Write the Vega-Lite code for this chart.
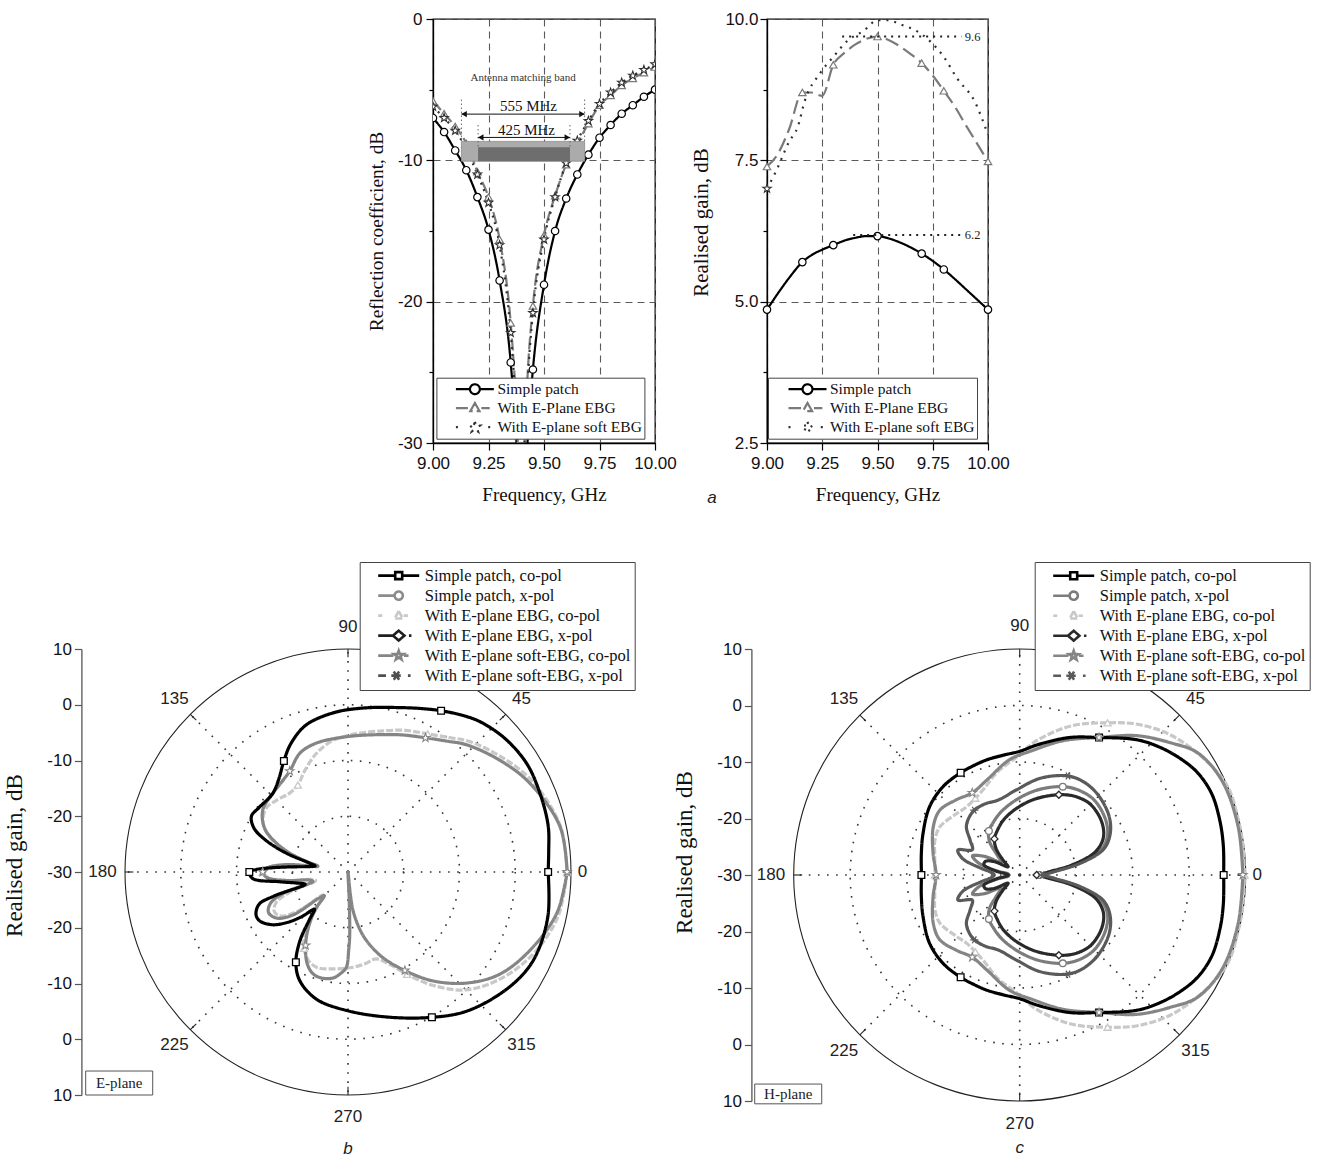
{
"$schema": "https://vega.github.io/schema/vega-lite/v6.json",
"background": "white",
"padding": {"left": 3, "top": 9, "right": 0, "bottom": 0},
"bounds": "flush",
"spacing": 630,
"config": {
 "view": {"stroke": null},
 "font": "Liberation Serif",
 "axis": {"labelFont": "Liberation Sans", "labelFontSize": 17, "labelColor": "#111", "titleFont": "Liberation Serif", "titleFontWeight": "normal", "titleColor": "#111", "domainColor": "#000", "domainWidth": 1.3, "tickColor": "#000", "tickWidth": 1.2, "labelFlush": false, "labelOverlap": false, "grid": false},
 "legend": {"labelFont": "Liberation Serif", "labelColor": "#111", "strokeColor": "#444", "fillColor": "#ffffff", "labelLimit": 300, "symbolOpacity": 1},
 "title": {"fontWeight": "normal"}
},
"datasets": {
 "refl": [
  {"s":"sp","f":9.00,"v":-7.0},{"s":"sp","f":9.05,"v":-8.0},{"s":"sp","f":9.10,"v":-9.3},{"s":"sp","f":9.15,"v":-10.7},{"s":"sp","f":9.20,"v":-12.6},{"s":"sp","f":9.25,"v":-14.9},{"s":"sp","f":9.30,"v":-18.5},{"s":"sp","f":9.35,"v":-24.3},{"s":"sp","f":9.37,"v":-28.5},{"s":"sp","f":9.39,"v":-34},{"s":"sp","f":9.40,"v":-38},{"s":"sp","f":9.41,"v":-35},{"s":"sp","f":9.43,"v":-28.8},{"s":"sp","f":9.45,"v":-24.8},{"s":"sp","f":9.50,"v":-18.8},{"s":"sp","f":9.55,"v":-15.0},{"s":"sp","f":9.60,"v":-12.7},{"s":"sp","f":9.65,"v":-11.0},{"s":"sp","f":9.70,"v":-9.6},{"s":"sp","f":9.75,"v":-8.4},{"s":"sp","f":9.80,"v":-7.5},{"s":"sp","f":9.85,"v":-6.7},{"s":"sp","f":9.90,"v":-6.1},{"s":"sp","f":9.95,"v":-5.5},{"s":"sp","f":10.00,"v":-5.0},
  {"s":"eb","f":9.00,"v":-5.8},{"s":"eb","f":9.05,"v":-6.7},{"s":"eb","f":9.10,"v":-7.6},{"s":"eb","f":9.15,"v":-8.8},{"s":"eb","f":9.20,"v":-10.8},{"s":"eb","f":9.25,"v":-12.6},{"s":"eb","f":9.30,"v":-15.6},{"s":"eb","f":9.35,"v":-21.5},{"s":"eb","f":9.37,"v":-26},{"s":"eb","f":9.385,"v":-31},{"s":"eb","f":9.40,"v":-36},{"s":"eb","f":9.41,"v":-31},{"s":"eb","f":9.425,"v":-25.5},{"s":"eb","f":9.45,"v":-20.3},{"s":"eb","f":9.50,"v":-15.3},{"s":"eb","f":9.55,"v":-12.5},{"s":"eb","f":9.60,"v":-10.3},{"s":"eb","f":9.65,"v":-8.8},{"s":"eb","f":9.70,"v":-7.4},{"s":"eb","f":9.75,"v":-6.1},{"s":"eb","f":9.80,"v":-5.4},{"s":"eb","f":9.85,"v":-4.7},{"s":"eb","f":9.90,"v":-4.2},{"s":"eb","f":9.95,"v":-3.8},{"s":"eb","f":10.00,"v":-3.4},
  {"s":"sf","f":9.00,"v":-6.2},{"s":"sf","f":9.05,"v":-7.0},{"s":"sf","f":9.10,"v":-7.9},{"s":"sf","f":9.15,"v":-9.2},{"s":"sf","f":9.20,"v":-11.0},{"s":"sf","f":9.25,"v":-13.0},{"s":"sf","f":9.30,"v":-16.0},{"s":"sf","f":9.35,"v":-22.2},{"s":"sf","f":9.37,"v":-26.5},{"s":"sf","f":9.385,"v":-31},{"s":"sf","f":9.40,"v":-36},{"s":"sf","f":9.41,"v":-31},{"s":"sf","f":9.425,"v":-26},{"s":"sf","f":9.45,"v":-20.8},{"s":"sf","f":9.50,"v":-15.6},{"s":"sf","f":9.55,"v":-12.6},{"s":"sf","f":9.60,"v":-10.2},{"s":"sf","f":9.65,"v":-8.6},{"s":"sf","f":9.70,"v":-7.2},{"s":"sf","f":9.75,"v":-6.0},{"s":"sf","f":9.80,"v":-5.2},{"s":"sf","f":9.85,"v":-4.5},{"s":"sf","f":9.90,"v":-4.0},{"s":"sf","f":9.95,"v":-3.6},{"s":"sf","f":10.00,"v":-3.2}
 ],
 "gain": [
  {"s":"sp","f":9.00,"v":4.86},{"s":"sp","f":9.05,"v":5.15},{"s":"sp","f":9.10,"v":5.42},{"s":"sp","f":9.16,"v":5.7},{"s":"sp","f":9.20,"v":5.82},{"s":"sp","f":9.25,"v":5.92},{"s":"sp","f":9.30,"v":6.0},{"s":"sp","f":9.35,"v":6.08},{"s":"sp","f":9.40,"v":6.13},{"s":"sp","f":9.45,"v":6.16},{"s":"sp","f":9.50,"v":6.16},{"s":"sp","f":9.55,"v":6.12},{"s":"sp","f":9.60,"v":6.05},{"s":"sp","f":9.65,"v":5.96},{"s":"sp","f":9.70,"v":5.85},{"s":"sp","f":9.75,"v":5.72},{"s":"sp","f":9.80,"v":5.57},{"s":"sp","f":9.85,"v":5.4},{"s":"sp","f":9.90,"v":5.22},{"s":"sp","f":9.95,"v":5.04},{"s":"sp","f":10.00,"v":4.86},
  {"s":"eb","f":9.00,"v":7.39},{"s":"eb","f":9.05,"v":7.62},{"s":"eb","f":9.10,"v":8.05},{"s":"eb","f":9.16,"v":8.7},{"s":"eb","f":9.20,"v":8.7},{"s":"eb","f":9.25,"v":8.64},{"s":"eb","f":9.30,"v":9.19},{"s":"eb","f":9.35,"v":9.4},{"s":"eb","f":9.40,"v":9.55},{"s":"eb","f":9.45,"v":9.65},{"s":"eb","f":9.50,"v":9.69},{"s":"eb","f":9.55,"v":9.63},{"s":"eb","f":9.60,"v":9.52},{"s":"eb","f":9.65,"v":9.38},{"s":"eb","f":9.70,"v":9.22},{"s":"eb","f":9.75,"v":9.0},{"s":"eb","f":9.80,"v":8.73},{"s":"eb","f":9.85,"v":8.45},{"s":"eb","f":9.90,"v":8.12},{"s":"eb","f":9.95,"v":7.8},{"s":"eb","f":10.00,"v":7.48},
  {"s":"sf","f":9.00,"v":7.0},{"s":"sf","f":9.04,"v":7.3},{"s":"sf","f":9.10,"v":7.83},{"s":"sf","f":9.14,"v":8.1},{"s":"sf","f":9.17,"v":8.54},{"s":"sf","f":9.24,"v":9.04},{"s":"sf","f":9.30,"v":9.33},{"s":"sf","f":9.36,"v":9.6},{"s":"sf","f":9.44,"v":9.8},{"s":"sf","f":9.50,"v":9.98},{"s":"sf","f":9.55,"v":9.98},{"s":"sf","f":9.60,"v":9.91},{"s":"sf","f":9.68,"v":9.78},{"s":"sf","f":9.74,"v":9.6},{"s":"sf","f":9.80,"v":9.33},{"s":"sf","f":9.86,"v":8.95},{"s":"sf","f":9.94,"v":8.54},{"s":"sf","f":10.00,"v":7.95}
 ],
 "angs": [{"ang":0},{"ang":45},{"ang":90},{"ang":135},{"ang":180},{"ang":225},{"ang":270},{"ang":315}],
 "pb": [
  {"s":"ebc","a":0,"g":9.3},{"s":"ebc","a":12,"g":9.0},{"s":"ebc","a":26,"g":6.9},{"s":"ebc","a":36,"g":4.6},{"s":"ebc","a":47,"g":2.0},{"s":"ebc","a":53,"g":0.2},{"s":"ebc","a":60,"g":-1.4},{"s":"ebc","a":68,"g":-2.6},{"s":"ebc","a":76,"g":-3.9},{"s":"ebc","a":84,"g":-4.9},{"s":"ebc","a":90,"g":-5.5},{"s":"ebc","a":97,"g":-6.3},{"s":"ebc","a":105,"g":-8.0},{"s":"ebc","a":113,"g":-10.2},{"s":"ebc","a":120,"g":-12.0},{"s":"ebc","a":127,"g":-12.4},{"s":"ebc","a":134,"g":-11.9},{"s":"ebc","a":142,"g":-11.4},{"s":"ebc","a":150,"g":-12.4},{"s":"ebc","a":156,"g":-14.6},{"s":"ebc","a":162,"g":-18.5},{"s":"ebc","a":167,"g":-23},{"s":"ebc","a":170,"g":-24.5},{"s":"ebc","a":174,"g":-18.5},{"s":"ebc","a":177,"g":-15.5},{"s":"ebc","a":180,"g":-14.7},{"s":"ebc","a":184,"g":-15.5},{"s":"ebc","a":188,"g":-19},{"s":"ebc","a":192,"g":-23.5},{"s":"ebc","a":195,"g":-24},{"s":"ebc","a":199,"g":-19},{"s":"ebc","a":203,"g":-16},{"s":"ebc","a":208,"g":-15},{"s":"ebc","a":213,"g":-15.5},{"s":"ebc","a":218,"g":-18.5},{"s":"ebc","a":223,"g":-24},{"s":"ebc","a":228,"g":-22},{"s":"ebc","a":234,"g":-17},{"s":"ebc","a":240,"g":-14.2},{"s":"ebc","a":246,"g":-12.6},{"s":"ebc","a":252,"g":-12.0},{"s":"ebc","a":261,"g":-12.4},{"s":"ebc","a":273,"g":-12.9},{"s":"ebc","a":281,"g":-13.3},{"s":"ebc","a":288,"g":-13.6},{"s":"ebc","a":294,"g":-11.9},{"s":"ebc","a":300,"g":-8.8},{"s":"ebc","a":307,"g":-4.5},{"s":"ebc","a":315,"g":-0.1},{"s":"ebc","a":325,"g":3.4},{"s":"ebc","a":336,"g":6.3},{"s":"ebc","a":348,"g":8.5},{"s":"ebc","a":360,"g":9.3},
  {"s":"sfc","a":0,"g":9.3},{"s":"sfc","a":12,"g":8.9},{"s":"sfc","a":26,"g":6.3},{"s":"sfc","a":36,"g":3.9},{"s":"sfc","a":47,"g":1.2},{"s":"sfc","a":53,"g":-0.6},{"s":"sfc","a":60,"g":-2.2},{"s":"sfc","a":68,"g":-3.5},{"s":"sfc","a":76,"g":-4.6},{"s":"sfc","a":90,"g":-5.7},{"s":"sfc","a":104,"g":-6.2},{"s":"sfc","a":112,"g":-7.0},{"s":"sfc","a":120,"g":-9.1},{"s":"sfc","a":127,"g":-10.0},{"s":"sfc","a":134,"g":-10.5},{"s":"sfc","a":144,"g":-11.1},{"s":"sfc","a":152,"g":-13.0},{"s":"sfc","a":157,"g":-15.5},{"s":"sfc","a":162,"g":-19},{"s":"sfc","a":166,"g":-22.5},{"s":"sfc","a":169,"g":-24.5},{"s":"sfc","a":173,"g":-19},{"s":"sfc","a":177,"g":-15.5},{"s":"sfc","a":180,"g":-14.7},{"s":"sfc","a":184,"g":-15.5},{"s":"sfc","a":188,"g":-19},{"s":"sfc","a":192,"g":-23},{"s":"sfc","a":195,"g":-23.5},{"s":"sfc","a":198,"g":-18},{"s":"sfc","a":202,"g":-15},{"s":"sfc","a":207,"g":-14},{"s":"sfc","a":213,"g":-14.8},{"s":"sfc","a":218,"g":-17.5},{"s":"sfc","a":222,"g":-23},{"s":"sfc","a":225,"g":-24},{"s":"sfc","a":229,"g":-21},{"s":"sfc","a":235,"g":-17.5},{"s":"sfc","a":240,"g":-14.8},{"s":"sfc","a":246,"g":-12},{"s":"sfc","a":251,"g":-10.7},{"s":"sfc","a":256,"g":-10.4},{"s":"sfc","a":262,"g":-10.8},{"s":"sfc","a":266,"g":-11.8},{"s":"sfc","a":269,"g":-12.9},{"s":"sfc","a":270.5,"g":-16},{"s":"sfc","a":271.5,"g":-18.5},{"s":"sfc","a":272.5,"g":-25},{"s":"sfc","a":274,"g":-40},{"s":"sfc","a":276,"g":-26},{"s":"sfc","a":277.5,"g":-23},{"s":"sfc","a":281,"g":-20},{"s":"sfc","a":285,"g":-17.3},{"s":"sfc","a":292,"g":-13.5},{"s":"sfc","a":300,"g":-9.6},{"s":"sfc","a":308,"g":-5.2},{"s":"sfc","a":317,"g":-0.8},{"s":"sfc","a":326,"g":2.8},{"s":"sfc","a":337,"g":5.6},{"s":"sfc","a":349,"g":8.2},{"s":"sfc","a":360,"g":9.3},
  {"s":"spc","a":0,"g":5.9},{"s":"spc","a":6,"g":6.2},{"s":"spc","a":13,"g":6.85},{"s":"spc","a":22,"g":7.2},{"s":"spc","a":31,"g":7.5},{"s":"spc","a":40,"g":7.0},{"s":"spc","a":48,"g":6.0},{"s":"spc","a":53,"g":5.0},{"s":"spc","a":60,"g":3.4},{"s":"spc","a":66,"g":2.1},{"s":"spc","a":72,"g":1.0},{"s":"spc","a":84,"g":-0.4},{"s":"spc","a":95,"g":-1.3},{"s":"spc","a":106,"g":-2.6},{"s":"spc","a":114,"g":-4.8},{"s":"spc","a":120,"g":-7.0},{"s":"spc","a":127,"g":-9.3},{"s":"spc","a":134,"g":-10.5},{"s":"spc","a":144,"g":-10.3},{"s":"spc","a":150,"g":-10.0},{"s":"spc","a":155,"g":-11.4},{"s":"spc","a":159,"g":-14.3},{"s":"spc","a":163,"g":-18.4},{"s":"spc","a":167,"g":-22.9},{"s":"spc","a":169.5,"g":-24},{"s":"spc","a":172,"g":-23},{"s":"spc","a":175,"g":-19.5},{"s":"spc","a":177,"g":-16},{"s":"spc","a":178.5,"g":-13.5},{"s":"spc","a":180,"g":-12.3},{"s":"spc","a":184,"g":-12.9},{"s":"spc","a":188,"g":-17.5},{"s":"spc","a":192,"g":-20.5},{"s":"spc","a":196,"g":-22},{"s":"spc","a":198,"g":-16},{"s":"spc","a":200,"g":-13},{"s":"spc","a":205,"g":-11.8},{"s":"spc","a":209,"g":-11.9},{"s":"spc","a":215,"g":-13.5},{"s":"spc","a":220,"g":-16},{"s":"spc","a":224,"g":-18.5},{"s":"spc","a":228,"g":-21},{"s":"spc","a":231,"g":-19},{"s":"spc","a":235,"g":-15},{"s":"spc","a":240,"g":-11.3},{"s":"spc","a":246,"g":-8.7},{"s":"spc","a":256,"g":-6.5},{"s":"spc","a":270,"g":-5.1},{"s":"spc","a":286,"g":-2.9},{"s":"spc","a":300,"g":0.1},{"s":"spc","a":310,"g":2.7},{"s":"spc","a":321,"g":4.9},{"s":"spc","a":330,"g":6.4},{"s":"spc","a":337,"g":6.9},{"s":"spc","a":348,"g":6.7},{"s":"spc","a":360,"g":5.9}
 ],
 "pc": [
  {"s":"ebc","a":0,"g":9.8},{"s":"ebc","a":8,"g":9.85},{"s":"ebc","a":14,"g":9.9},{"s":"ebc","a":23,"g":10.0},{"s":"ebc","a":32,"g":8.6},{"s":"ebc","a":43,"g":6.4},{"s":"ebc","a":52,"g":3.85},{"s":"ebc","a":60,"g":1.1},{"s":"ebc","a":71,"g":-2.1},{"s":"ebc","a":83,"g":-6.1},{"s":"ebc","a":91,"g":-9.0},{"s":"ebc","a":103,"g":-11.5},{"s":"ebc","a":112,"g":-13.4},{"s":"ebc","a":120,"g":-14.3},{"s":"ebc","a":128,"g":-14.7},{"s":"ebc","a":136,"g":-14.4},{"s":"ebc","a":149,"g":-13.5},{"s":"ebc","a":158,"g":-13.8},{"s":"ebc","a":166,"g":-14.5},{"s":"ebc","a":180,"g":-15.0},{"s":"ebc","a":194,"g":-14.5},{"s":"ebc","a":202,"g":-13.8},{"s":"ebc","a":211,"g":-13.5},{"s":"ebc","a":224,"g":-14.4},{"s":"ebc","a":232,"g":-14.7},{"s":"ebc","a":240,"g":-14.3},{"s":"ebc","a":248,"g":-13.4},{"s":"ebc","a":257,"g":-11.5},{"s":"ebc","a":269,"g":-9.0},{"s":"ebc","a":277,"g":-6.1},{"s":"ebc","a":289,"g":-2.1},{"s":"ebc","a":300,"g":1.1},{"s":"ebc","a":308,"g":3.85},{"s":"ebc","a":317,"g":6.4},{"s":"ebc","a":328,"g":8.6},{"s":"ebc","a":337,"g":10.0},{"s":"ebc","a":346,"g":9.9},{"s":"ebc","a":352,"g":9.85},{"s":"ebc","a":360,"g":9.8},
  {"s":"sfc","a":0,"g":9.5},{"s":"sfc","a":12.5,"g":9.6},{"s":"sfc","a":25,"g":9.5},{"s":"sfc","a":34.5,"g":8.2},{"s":"sfc","a":41,"g":5.6},{"s":"sfc","a":50,"g":2.2},{"s":"sfc","a":60,"g":-1.9},{"s":"sfc","a":72,"g":-5.0},{"s":"sfc","a":85,"g":-8.0},{"s":"sfc","a":95,"g":-9.5},{"s":"sfc","a":109,"g":-12.2},{"s":"sfc","a":120,"g":-13.2},{"s":"sfc","a":130,"g":-12.6},{"s":"sfc","a":141,"g":-11.8},{"s":"sfc","a":151,"g":-12.5},{"s":"sfc","a":166,"g":-14.2},{"s":"sfc","a":180,"g":-15.2},{"s":"sfc","a":194,"g":-14.2},{"s":"sfc","a":209,"g":-12.5},{"s":"sfc","a":219,"g":-11.8},{"s":"sfc","a":230,"g":-12.6},{"s":"sfc","a":240,"g":-13.2},{"s":"sfc","a":251,"g":-12.2},{"s":"sfc","a":265,"g":-9.5},{"s":"sfc","a":275,"g":-8.0},{"s":"sfc","a":288,"g":-5.0},{"s":"sfc","a":300,"g":-1.9},{"s":"sfc","a":310,"g":2.2},{"s":"sfc","a":319,"g":5.6},{"s":"sfc","a":325.5,"g":8.2},{"s":"sfc","a":335,"g":9.5},{"s":"sfc","a":347.5,"g":9.6},{"s":"sfc","a":360,"g":9.5},
  {"s":"spc","a":0,"g":6.1},{"s":"spc","a":8,"g":6.4},{"s":"spc","a":15,"g":6.7},{"s":"spc","a":23,"g":6.9},{"s":"spc","a":30,"g":6.3},{"s":"spc","a":36,"g":5.1},{"s":"spc","a":42,"g":3.65},{"s":"spc","a":49,"g":1.7},{"s":"spc","a":60,"g":-1.9},{"s":"spc","a":70,"g":-4.1},{"s":"spc","a":82,"g":-6.7},{"s":"spc","a":90,"g":-8.1},{"s":"spc","a":98,"g":-8.6},{"s":"spc","a":106,"g":-8.8},{"s":"spc","a":113,"g":-9.0},{"s":"spc","a":120,"g":-9.1},{"s":"spc","a":131,"g":-9.3},{"s":"spc","a":143,"g":-10.0},{"s":"spc","a":157,"g":-11.4},{"s":"spc","a":168,"g":-12.2},{"s":"spc","a":180,"g":-12.6},{"s":"spc","a":192,"g":-12.2},{"s":"spc","a":203,"g":-11.4},{"s":"spc","a":217,"g":-10.0},{"s":"spc","a":229,"g":-9.3},{"s":"spc","a":240,"g":-9.1},{"s":"spc","a":247,"g":-9.0},{"s":"spc","a":254,"g":-8.8},{"s":"spc","a":262,"g":-8.6},{"s":"spc","a":270,"g":-8.1},{"s":"spc","a":278,"g":-6.7},{"s":"spc","a":290,"g":-4.1},{"s":"spc","a":300,"g":-1.9},{"s":"spc","a":311,"g":1.7},{"s":"spc","a":318,"g":3.65},{"s":"spc","a":324,"g":5.1},{"s":"spc","a":330,"g":6.3},{"s":"spc","a":337,"g":6.9},{"s":"spc","a":345,"g":6.7},{"s":"spc","a":352,"g":6.4},{"s":"spc","a":360,"g":6.1},
  {"s":"spx","a":0,"g":-26.5},{"s":"spx","a":6,"g":-24},{"s":"spx","a":11,"g":-19.5},{"s":"spx","a":17,"g":-15},{"s":"spx","a":24,"g":-13},{"s":"spx","a":33,"g":-11.9},{"s":"spx","a":45,"g":-11.3},{"s":"spx","a":55,"g":-11.7},{"s":"spx","a":64,"g":-12.6},{"s":"spx","a":78,"g":-14.6},{"s":"spx","a":92,"g":-16.6},{"s":"spx","a":106,"g":-18.3},{"s":"spx","a":116,"g":-19.5},{"s":"spx","a":125,"g":-20.5},{"s":"spx","a":132,"g":-22},{"s":"spx","a":138,"g":-24.5},{"s":"spx","a":145,"g":-26},{"s":"spx","a":152,"g":-23},{"s":"spx","a":158,"g":-21},{"s":"spx","a":164,"g":-22.5},{"s":"spx","a":170,"g":-26},{"s":"spx","a":175,"g":-28},{"s":"spx","a":180,"g":-28},{"s":"spx","a":185,"g":-28},{"s":"spx","a":190,"g":-26},{"s":"spx","a":196,"g":-22.5},{"s":"spx","a":202,"g":-21},{"s":"spx","a":208,"g":-23},{"s":"spx","a":215,"g":-26},{"s":"spx","a":222,"g":-24.5},{"s":"spx","a":228,"g":-22},{"s":"spx","a":235,"g":-20.5},{"s":"spx","a":244,"g":-19.5},{"s":"spx","a":254,"g":-18.3},{"s":"spx","a":268,"g":-16.6},{"s":"spx","a":282,"g":-14.6},{"s":"spx","a":296,"g":-12.6},{"s":"spx","a":305,"g":-11.7},{"s":"spx","a":315,"g":-11.3},{"s":"spx","a":327,"g":-11.9},{"s":"spx","a":336,"g":-13},{"s":"spx","a":343,"g":-15},{"s":"spx","a":349,"g":-19.5},{"s":"spx","a":354,"g":-24},{"s":"spx","a":360,"g":-26.5},
  {"s":"ebx","a":0,"g":-27},{"s":"ebx","a":6,"g":-25},{"s":"ebx","a":11,"g":-20.5},{"s":"ebx","a":17,"g":-16},{"s":"ebx","a":24,"g":-13.8},{"s":"ebx","a":33,"g":-12.7},{"s":"ebx","a":45,"g":-12.3},{"s":"ebx","a":55,"g":-13},{"s":"ebx","a":64,"g":-14.2},{"s":"ebx","a":78,"g":-16.2},{"s":"ebx","a":92,"g":-18.1},{"s":"ebx","a":106,"g":-19.8},{"s":"ebx","a":116,"g":-21.1},{"s":"ebx","a":125,"g":-22.2},{"s":"ebx","a":132,"g":-23.8},{"s":"ebx","a":138,"g":-26},{"s":"ebx","a":145,"g":-27.5},{"s":"ebx","a":152,"g":-25},{"s":"ebx","a":158,"g":-23.5},{"s":"ebx","a":164,"g":-23.4},{"s":"ebx","a":170,"g":-25.5},{"s":"ebx","a":175,"g":-27.5},{"s":"ebx","a":180,"g":-28},{"s":"ebx","a":185,"g":-27.5},{"s":"ebx","a":190,"g":-25.5},{"s":"ebx","a":196,"g":-23.4},{"s":"ebx","a":202,"g":-23.5},{"s":"ebx","a":208,"g":-25},{"s":"ebx","a":215,"g":-27.5},{"s":"ebx","a":222,"g":-26},{"s":"ebx","a":228,"g":-23.8},{"s":"ebx","a":235,"g":-22.2},{"s":"ebx","a":244,"g":-21.1},{"s":"ebx","a":254,"g":-19.8},{"s":"ebx","a":268,"g":-18.1},{"s":"ebx","a":282,"g":-16.2},{"s":"ebx","a":296,"g":-14.2},{"s":"ebx","a":305,"g":-13},{"s":"ebx","a":315,"g":-12.3},{"s":"ebx","a":327,"g":-12.7},{"s":"ebx","a":336,"g":-13.8},{"s":"ebx","a":343,"g":-16},{"s":"ebx","a":349,"g":-20.5},{"s":"ebx","a":354,"g":-25},{"s":"ebx","a":360,"g":-27},
  {"s":"sfx","a":0,"g":-26},{"s":"sfx","a":6,"g":-23.5},{"s":"sfx","a":11,"g":-19},{"s":"sfx","a":17,"g":-14.5},{"s":"sfx","a":24,"g":-12.5},{"s":"sfx","a":33,"g":-11.1},{"s":"sfx","a":45,"g":-10.2},{"s":"sfx","a":55,"g":-10.0},{"s":"sfx","a":64,"g":-10.5},{"s":"sfx","a":78,"g":-12.5},{"s":"sfx","a":92,"g":-14.9},{"s":"sfx","a":106,"g":-16.2},{"s":"sfx","a":116,"g":-16.0},{"s":"sfx","a":125,"g":-16.0},{"s":"sfx","a":132,"g":-16.5},{"s":"sfx","a":138,"g":-17.3},{"s":"sfx","a":145,"g":-19.3},{"s":"sfx","a":152,"g":-20.5},{"s":"sfx","a":158,"g":-18.2},{"s":"sfx","a":164,"g":-19.5},{"s":"sfx","a":170,"g":-23},{"s":"sfx","a":175,"g":-25},{"s":"sfx","a":180,"g":-25.5},{"s":"sfx","a":185,"g":-25},{"s":"sfx","a":190,"g":-23},{"s":"sfx","a":196,"g":-19.5},{"s":"sfx","a":202,"g":-18.2},{"s":"sfx","a":208,"g":-20.5},{"s":"sfx","a":215,"g":-19.3},{"s":"sfx","a":222,"g":-17.3},{"s":"sfx","a":228,"g":-16.5},{"s":"sfx","a":235,"g":-16.0},{"s":"sfx","a":244,"g":-16.0},{"s":"sfx","a":254,"g":-16.2},{"s":"sfx","a":268,"g":-14.9},{"s":"sfx","a":282,"g":-12.5},{"s":"sfx","a":296,"g":-10.5},{"s":"sfx","a":305,"g":-10.0},{"s":"sfx","a":315,"g":-10.2},{"s":"sfx","a":327,"g":-11.1},{"s":"sfx","a":336,"g":-12.5},{"s":"sfx","a":343,"g":-14.5},{"s":"sfx","a":349,"g":-19},{"s":"sfx","a":354,"g":-23.5},{"s":"sfx","a":360,"g":-26}
 ]
},
"resolve": {"scale": {"color": "independent", "shape": "independent", "strokeDash": "independent", "size": "independent"}, "legend": {"color": "independent"}},
"vconcat": [
 {
  "bounds": "flush",
  "spacing": 112,
  "resolve": {"scale": {"color": "independent", "shape": "independent", "strokeDash": "independent"}, "legend": {"color": "independent"}},
  "hconcat": [
   {"width": 196, "height": 424, "data": {"values": [{"z": 0}]}, "mark": {"type": "point", "opacity": 0}, "encoding": {"x": {"field": "z", "type": "quantitative", "axis": null}, "y": {"field": "z", "type": "quantitative", "axis": null}}},
   {
    "width": 222, "height": 424,
    "view": {"stroke": "#000", "strokeWidth": 1.3},
    "layer": [
     {"data": {"name": "refl"},
      "mark": {"type": "line", "clip": true, "strokeWidth": 2.2, "interpolate": "monotone"},
      "encoding": {
       "x": {"field": "f", "type": "quantitative", "scale": {"domain": [9, 10], "nice": false, "zero": false},
             "axis": {"values": [9, 9.125, 9.25, 9.375, 9.5, 9.625, 9.75, 9.875, 10], "labelExpr": "abs(datum.value*4-round(datum.value*4))<0.001 ? format(datum.value,'.2f') : ''", "tickSize": {"condition": {"test": "abs(datum.value*4-round(datum.value*4))<0.001", "value": 7}, "value": 4}, "grid": true, "gridDash": [7, 5], "gridColor": "#5a5a5a", "gridWidth": 1.1, "gridOpacity": {"condition": {"test": "abs(datum.value*4-round(datum.value*4))<0.001", "value": 1}, "value": 0}, "labelPadding": 5, "title": "Frequency, GHz", "titleFontSize": 19, "titlePadding": 14}},
       "y": {"field": "v", "type": "quantitative", "scale": {"domain": [-30, 0], "nice": false, "zero": false},
             "axis": {"values": [-30, -25, -20, -15, -10, -5, 0], "labelExpr": "datum.value % 10 === 0 ? '' + datum.value : ''", "tickSize": {"condition": {"test": "datum.value % 10 === 0", "value": 7}, "value": 4}, "grid": true, "gridDash": [7, 5], "gridColor": "#5a5a5a", "gridWidth": 1.1, "gridOpacity": {"condition": {"test": "datum.value % 10 === 0", "value": 1}, "value": 0}, "labelPadding": 4, "title": "Reflection coefficient, dB", "titleFontSize": 19.3, "titlePadding": 11}},
       "color": {"field": "s", "type": "nominal", "scale": {"domain": ["sp", "eb", "sf"], "range": ["#000000", "#7a7a7a", "#303030"]},
                 "legend": {"orient": "none", "legendX": 3.4, "legendY": 358.7, "title": null, "symbolSize": 1444, "symbolStrokeWidth": 2.2, "clipHeight": 19, "rowPadding": 0, "padding": 2, "symbolOffset": 16, "labelOffset": 2, "labelFontSize": 15.5,
                            "labelExpr": "datum.value == 'sp' ? 'Simple patch' : datum.value == 'eb' ? 'With E-Plane EBG' : 'With E-plane soft EBG'"}},
       "strokeDash": {"field": "s", "type": "nominal", "scale": {"domain": ["sp", "eb", "sf"], "range": [[1, 0], [12, 4], [2, 5]]}, "legend": null}
      }},
     {"data": {"name": "refl"},
      "transform": [{"filter": "datum.f == 9"}],
      "mark": {"type": "point", "filled": false, "opacity": 0},
      "encoding": {
       "x": {"field": "f", "type": "quantitative"},
       "y": {"field": "v", "type": "quantitative"},
       "color": {"field": "s", "type": "nominal", "legend": null},
       "shape": {"field": "s", "type": "nominal", "scale": {"domain": ["sp", "eb", "sf"], "range": ["M-1,0H-0.26M0.26,0H1M-0.26,0A0.26,0.26,0,1,1,0.26,0A0.26,0.26,0,1,1,-0.26,0Z", "M-1,0H-0.34M0.34,0H0.78M0,-0.27L0.24,0.15L-0.24,0.15Z", "M-1,0H-0.86M0.7,0H0.84M0,-0.28L0.066,-0.09L0.266,-0.087L0.107,0.034L0.165,0.226L0,0.112L-0.165,0.226L-0.107,0.034L-0.266,-0.087L-0.066,-0.09Z"]}, "legend": null}
      }},
     {"data": {"name": "refl"},
      "transform": [{"filter": "datum.s == 'sp' && abs(datum.f*20-round(datum.f*20)) < 0.001 && datum.v >= -30"}],
      "mark": {"type": "point", "shape": "circle", "filled": false, "fill": "white", "strokeWidth": 1.2, "opacity": 1, "size": 55, "clip": true},
      "encoding": {"x": {"field": "f", "type": "quantitative"}, "y": {"field": "v", "type": "quantitative"}, "color": {"field": "s", "type": "nominal", "legend": null}}},
     {"data": {"name": "refl"},
      "transform": [{"filter": "datum.s == 'eb' && abs(datum.f*20-round(datum.f*20)) < 0.001 && datum.v >= -30"}],
      "mark": {"type": "point", "shape": "triangle-up", "filled": false, "fill": "white", "strokeWidth": 1.2, "opacity": 1, "size": 55, "clip": true},
      "encoding": {"x": {"field": "f", "type": "quantitative"}, "y": {"field": "v", "type": "quantitative"}, "color": {"field": "s", "type": "nominal", "legend": null}}},
     {"data": {"name": "refl"},
      "transform": [{"filter": "datum.s == 'sf' && abs(datum.f*20-round(datum.f*20)) < 0.001 && datum.v >= -30"}],
      "mark": {"type": "point", "shape": "M0,-1.4L0.33,-0.45L1.33,-0.43L0.53,0.17L0.82,1.13L0,0.56L-0.82,1.13L-0.53,0.17L-1.33,-0.43L-0.33,-0.45Z", "filled": false, "fill": "white", "strokeWidth": 1.1, "opacity": 1, "size": 40, "clip": true},
      "encoding": {"x": {"field": "f", "type": "quantitative"}, "y": {"field": "v", "type": "quantitative"}, "color": {"field": "s", "type": "nominal", "legend": null}}},
     {"data": {"values": [{"f1": 9.128, "f2": 9.683, "v1": -8.66, "v2": -10.06}]}, "mark": {"type": "rect", "fill": "#ababab", "stroke": "#8a8a8a", "strokeWidth": 0.8},
      "encoding": {"x": {"field": "f1", "type": "quantitative"}, "x2": {"field": "f2"}, "y": {"field": "v1", "type": "quantitative"}, "y2": {"field": "v2"}}},
     {"data": {"values": [{"f1": 9.203, "f2": 9.617, "v1": -9.08, "v2": -10.06}]}, "mark": {"type": "rect", "fill": "#6e6e6e"},
      "encoding": {"x": {"field": "f1", "type": "quantitative"}, "x2": {"field": "f2"}, "y": {"field": "v1", "type": "quantitative"}, "y2": {"field": "v2"}}},
     {"data": {"values": [{"f": 9.128, "v1": -5.7, "v2": -8.66}, {"f": 9.683, "v1": -5.7, "v2": -8.66}, {"f": 9.203, "v1": -7.5, "v2": -9.08}, {"f": 9.617, "v1": -7.5, "v2": -9.08}]},
      "mark": {"type": "rule", "stroke": "#666", "strokeWidth": 1, "strokeDash": [1.5, 2.5]},
      "encoding": {"x": {"field": "f", "type": "quantitative"}, "y": {"field": "v1", "type": "quantitative"}, "y2": {"field": "v2"}}},
     {"data": {"values": [{"f1": 9.128, "f2": 9.683, "v": -6.73}, {"f1": 9.203, "f2": 9.617, "v": -8.38}]},
      "mark": {"type": "rule", "stroke": "#111", "strokeWidth": 1},
      "encoding": {"x": {"field": "f1", "type": "quantitative"}, "x2": {"field": "f2"}, "y": {"field": "v", "type": "quantitative"}}},
     {"data": {"values": [{"f": 9.14, "v": -6.73}, {"f": 9.215, "v": -8.38}]},
      "mark": {"type": "point", "shape": "triangle-left", "filled": true, "color": "#111", "size": 40, "opacity": 1},
      "encoding": {"x": {"field": "f", "type": "quantitative"}, "y": {"field": "v", "type": "quantitative"}}},
     {"data": {"values": [{"f": 9.671, "v": -6.73}, {"f": 9.605, "v": -8.38}]},
      "mark": {"type": "point", "shape": "triangle-right", "filled": true, "color": "#111", "size": 40, "opacity": 1},
      "encoding": {"x": {"field": "f", "type": "quantitative"}, "y": {"field": "v", "type": "quantitative"}}},
     {"data": {"values": [{"t": "555 MHz", "f": 9.43, "v": -6.19}, {"t": "425 MHz", "f": 9.421, "v": -7.84}]},
      "mark": {"type": "text", "font": "Liberation Serif", "fontSize": 15, "align": "center", "baseline": "middle", "color": "#111"},
      "encoding": {"x": {"field": "f", "type": "quantitative"}, "y": {"field": "v", "type": "quantitative"}, "text": {"field": "t", "type": "nominal"}}},
     {"data": {"values": [{"t": "Antenna matching band", "f": 9.406, "v": -4.19}]},
      "mark": {"type": "text", "font": "Liberation Serif", "fontSize": 11, "align": "center", "baseline": "middle", "color": "#333"},
      "encoding": {"x": {"field": "f", "type": "quantitative"}, "y": {"field": "v", "type": "quantitative"}, "text": {"field": "t", "type": "nominal"}}}
    ]
   },
   {
    "width": 221, "height": 424,
    "view": {"stroke": "#000", "strokeWidth": 1.3},
    "layer": [
     {"data": {"name": "gain"},
      "mark": {"type": "line", "clip": true, "strokeWidth": 2.2, "interpolate": "monotone"},
      "encoding": {
       "x": {"field": "f", "type": "quantitative", "scale": {"domain": [9, 10], "nice": false, "zero": false},
             "axis": {"values": [9, 9.125, 9.25, 9.375, 9.5, 9.625, 9.75, 9.875, 10], "labelExpr": "abs(datum.value*4-round(datum.value*4))<0.001 ? format(datum.value,'.2f') : ''", "tickSize": {"condition": {"test": "abs(datum.value*4-round(datum.value*4))<0.001", "value": 7}, "value": 4}, "grid": true, "gridDash": [7, 5], "gridColor": "#5a5a5a", "gridWidth": 1.1, "gridOpacity": {"condition": {"test": "abs(datum.value*4-round(datum.value*4))<0.001", "value": 1}, "value": 0}, "labelPadding": 5, "title": "Frequency, GHz", "titleFontSize": 19, "titlePadding": 14}},
       "y": {"field": "v", "type": "quantitative", "scale": {"domain": [2.5, 10], "nice": false, "zero": false},
             "axis": {"values": [2.5, 3.75, 5, 6.25, 7.5, 8.75, 10], "labelExpr": "abs(datum.value/2.5-round(datum.value/2.5))<0.001 ? format(datum.value,'.1f') : ''", "tickSize": {"condition": {"test": "abs(datum.value/2.5-round(datum.value/2.5))<0.001", "value": 7}, "value": 4}, "grid": true, "gridDash": [7, 5], "gridColor": "#5a5a5a", "gridWidth": 1.1, "gridOpacity": {"condition": {"test": "abs(datum.value/2.5-round(datum.value/2.5))<0.001", "value": 1}, "value": 0}, "labelPadding": 2, "title": "Realised gain, dB", "titleFontSize": 21, "titlePadding": 13, "titleY": 203}},
       "color": {"field": "s", "type": "nominal", "scale": {"domain": ["sp", "eb", "sf"], "range": ["#000000", "#7a7a7a", "#303030"]},
                 "legend": {"orient": "none", "legendX": 1, "legendY": 358.7, "title": null, "symbolSize": 1444, "symbolStrokeWidth": 2.2, "clipHeight": 19, "rowPadding": 0, "padding": 2, "symbolOffset": 17, "labelOffset": 2, "labelFontSize": 15.5,
                            "labelExpr": "datum.value == 'sp' ? 'Simple patch' : datum.value == 'eb' ? 'With E-Plane EBG' : 'With E-plane soft EBG'"}},
       "strokeDash": {"field": "s", "type": "nominal", "scale": {"domain": ["sp", "eb", "sf"], "range": [[1, 0], [14, 6], [2, 6]]}, "legend": null}
      }},
     {"data": {"name": "gain"},
      "transform": [{"filter": "datum.f == 9"}],
      "mark": {"type": "point", "filled": false, "opacity": 0},
      "encoding": {
       "x": {"field": "f", "type": "quantitative"},
       "y": {"field": "v", "type": "quantitative"},
       "color": {"field": "s", "type": "nominal", "legend": null},
       "shape": {"field": "s", "type": "nominal", "scale": {"domain": ["sp", "eb", "sf"], "range": ["M-1,0H-0.26M0.26,0H1M-0.26,0A0.26,0.26,0,1,1,0.26,0A0.26,0.26,0,1,1,-0.26,0Z", "M-1,0H-0.34M0.34,0H0.78M0,-0.27L0.24,0.15L-0.24,0.15Z", "M-1,0H-0.86M0.7,0H0.84M0,-0.28L0.066,-0.09L0.266,-0.087L0.107,0.034L0.165,0.226L0,0.112L-0.165,0.226L-0.107,0.034L-0.266,-0.087L-0.066,-0.09Z"]}, "legend": null}
      }},
     {"data": {"name": "gain"},
      "transform": [{"filter": "datum.s == 'sp' && indexof([9, 9.16, 9.3, 9.5, 9.7, 9.8, 10], datum.f) >= 0"}],
      "mark": {"type": "point", "shape": "circle", "filled": false, "fill": "white", "strokeWidth": 1.2, "opacity": 1, "size": 55},
      "encoding": {"x": {"field": "f", "type": "quantitative"}, "y": {"field": "v", "type": "quantitative"}, "color": {"field": "s", "type": "nominal", "legend": null}}},
     {"data": {"name": "gain"},
      "transform": [{"filter": "datum.s == 'eb' && indexof([9, 9.16, 9.3, 9.5, 9.7, 9.8, 10], datum.f) >= 0"}],
      "mark": {"type": "point", "shape": "triangle-up", "filled": false, "fill": "white", "strokeWidth": 1.2, "opacity": 1, "size": 55},
      "encoding": {"x": {"field": "f", "type": "quantitative"}, "y": {"field": "v", "type": "quantitative"}, "color": {"field": "s", "type": "nominal", "legend": null}}},
     {"data": {"name": "gain"},
      "transform": [{"filter": "datum.s == 'sf' && datum.f == 9"}],
      "mark": {"type": "point", "shape": "M0,-1.4L0.33,-0.45L1.33,-0.43L0.53,0.17L0.82,1.13L0,0.56L-0.82,1.13L-0.53,0.17L-1.33,-0.43L-0.33,-0.45Z", "filled": false, "fill": "white", "strokeWidth": 1.1, "opacity": 1, "size": 40},
      "encoding": {"x": {"field": "f", "type": "quantitative"}, "y": {"field": "v", "type": "quantitative"}, "color": {"field": "s", "type": "nominal", "legend": null}}},
     {"data": {"values": [{"f1": 9.34, "f2": 9.88, "v": 9.69}, {"f1": 9.39, "f2": 9.88, "v": 6.18}]},
      "mark": {"type": "rule", "stroke": "#222", "strokeWidth": 2, "strokeDash": [2, 5]},
      "encoding": {"x": {"field": "f1", "type": "quantitative"}, "x2": {"field": "f2"}, "y": {"field": "v", "type": "quantitative"}}},
     {"data": {"values": [{"t": "9.6", "f": 9.895, "v": 9.69}, {"t": "6.2", "f": 9.895, "v": 6.18}]},
      "mark": {"type": "text", "font": "Liberation Serif", "fontSize": 12.5, "align": "left", "baseline": "middle", "color": "#222"},
      "encoding": {"x": {"field": "f", "type": "quantitative"}, "y": {"field": "v", "type": "quantitative"}, "text": {"field": "t", "type": "nominal"}}},
     {"data": {"values": [{"t": "a", "f": 8.751, "v": 1.523}]},
      "mark": {"type": "text", "font": "Liberation Sans", "fontSize": 17, "fontStyle": "italic", "align": "center", "baseline": "middle", "color": "#222"},
      "encoding": {"x": {"field": "f", "type": "quantitative"}, "y": {"field": "v", "type": "quantitative"}, "text": {"field": "t", "type": "nominal"}}}
    ]
   }
  ]
 },
 {
  "bounds": "flush",
  "spacing": 222.7,
  "resolve": {"scale": {"color": "independent", "shape": "independent", "strokeDash": "independent", "size": "independent"}, "legend": {"color": "independent"}},
  "hconcat": [
   {
    "width": 446, "height": 446,
    "title": {"text": "b", "orient": "bottom", "frame": "group", "anchor": "middle", "offset": 16, "font": "Liberation Sans", "fontSize": 17, "fontStyle": "italic", "fontWeight": "normal", "color": "#222"},
    "layer": [
     {"data": {"values": [{"lev": -20}, {"lev": -10}, {"lev": 0}]},
      "transform": [{"calculate": "datum.lev + 30", "as": "r"}, {"calculate": "0", "as": "cx"}],
      "mark": {"type": "point", "shape": "circle", "filled": false, "color": "#333", "stroke": "#333", "strokeWidth": 1.6, "strokeDash": [1.6, 7.5], "opacity": 1},
      "encoding": {"x": {"field": "cx", "type": "quantitative", "scale": {"domain": [-40, 40], "nice": false, "zero": false}, "axis": null}, "y": {"field": "cx", "type": "quantitative", "scale": {"domain": [-40, 40], "nice": false, "zero": false}},
                   "size": {"field": "r", "type": "quantitative", "scale": {"type": "pow", "exponent": 2, "domain": [0, 40], "range": [0, 198916]}, "legend": null}}},
     {"data": {"values": [{"lev": 10}]},
      "transform": [{"calculate": "datum.lev + 30", "as": "r"}, {"calculate": "0", "as": "cx"}],
      "mark": {"type": "point", "shape": "circle", "filled": false, "color": "#222", "stroke": "#222", "strokeWidth": 1.1, "opacity": 1},
      "encoding": {"x": {"field": "cx", "type": "quantitative", "axis": null}, "y": {"field": "cx", "type": "quantitative"},
                   "size": {"field": "r", "type": "quantitative", "scale": {"type": "pow", "exponent": 2, "domain": [0, 40], "range": [0, 198916]}, "legend": null}}},
     {"data": {"name": "angs"},
      "transform": [{"calculate": "0", "as": "ox"}, {"calculate": "40*cos(datum.ang*PI/180)", "as": "ex"}, {"calculate": "40*sin(datum.ang*PI/180)", "as": "ey"}],
      "mark": {"type": "rule", "stroke": "#333", "strokeWidth": 1.6, "strokeDash": [1.6, 7.5]},
      "encoding": {"x": {"field": "ox", "type": "quantitative", "axis": null}, "y": {"field": "ox", "type": "quantitative"}, "x2": {"field": "ex"}, "y2": {"field": "ey"}}},
     {"data": {"name": "angs"},
      "transform": [{"calculate": "38.5*cos(datum.ang*PI/180)", "as": "sx"}, {"calculate": "38.5*sin(datum.ang*PI/180)", "as": "sy"}, {"calculate": "40*cos(datum.ang*PI/180)", "as": "ex"}, {"calculate": "40*sin(datum.ang*PI/180)", "as": "ey"}],
      "mark": {"type": "rule", "stroke": "#222", "strokeWidth": 1.1},
      "encoding": {"x": {"field": "sx", "type": "quantitative", "axis": null}, "y": {"field": "sy", "type": "quantitative"}, "x2": {"field": "ex"}, "y2": {"field": "ey"}}},
     {"data": {"name": "angs"},
      "transform": [{"filter": "datum.ang != 0 && datum.ang != 180"}, {"calculate": "44*cos(datum.ang*PI/180)", "as": "lx"}, {"calculate": "44*sin(datum.ang*PI/180)", "as": "ly"}],
      "mark": {"type": "text", "font": "Liberation Sans", "fontSize": 17, "align": "center", "baseline": "middle", "color": "#222"},
      "encoding": {"x": {"field": "lx", "type": "quantitative", "axis": null}, "y": {"field": "ly", "type": "quantitative"}, "text": {"field": "ang", "type": "nominal"}}},
     {"data": {"name": "angs"},
      "transform": [{"filter": "datum.ang == 0"}, {"calculate": "41.2", "as": "lx"}, {"calculate": "0", "as": "ly"}],
      "mark": {"type": "text", "font": "Liberation Sans", "fontSize": 17, "align": "left", "baseline": "middle", "color": "#222"},
      "encoding": {"x": {"field": "lx", "type": "quantitative", "axis": null}, "y": {"field": "ly", "type": "quantitative"}, "text": {"field": "ang", "type": "nominal"}}},
     {"data": {"name": "angs"},
      "transform": [{"filter": "datum.ang == 180"}, {"calculate": "-41.5", "as": "lx"}, {"calculate": "0", "as": "ly"}],
      "mark": {"type": "text", "font": "Liberation Sans", "fontSize": 17, "align": "right", "baseline": "middle", "color": "#222"},
      "encoding": {"x": {"field": "lx", "type": "quantitative", "axis": null}, "y": {"field": "ly", "type": "quantitative"}, "text": {"field": "ang", "type": "nominal"}}},
     {"data": {"name": "pb"},
      "transform": [{"calculate": "max(0, datum.g + 30)", "as": "r"}, {"calculate": "datum.r*cos(datum.a*PI/180)", "as": "px"}, {"calculate": "datum.r*sin(datum.a*PI/180)", "as": "py"}],
      "mark": {"type": "line", "interpolate": "catmull-rom", "strokeWidth": 3.2},
      "encoding": {
       "x": {"field": "px", "type": "quantitative", "axis": null},
       "y": {"field": "py", "type": "quantitative",
             "axis": {"orient": "left", "offset": 43.6, "values": [-40, -35, -30, -25, -20, -15, -10, -5, 0, 5, 10, 15, 20, 25, 30, 35, 40], "labelExpr": "datum.value % 10 === 0 ? '' + (abs(datum.value) - 30) : ''", "tickSize": {"condition": {"test": "datum.value % 10 === 0", "value": 7}, "value": 4}, "labelPadding": 3, "domainColor": "#555", "tickColor": "#555", "title": "Realised gain, dB", "titleFontSize": 23, "titlePadding": 20, "titleY": 206}},
       "order": {"field": "a", "type": "quantitative"},
       "color": {"field": "s", "type": "nominal", "scale": {"domain": ["spc", "spx", "ebc", "ebx", "sfc", "sfx"], "range": ["#000000", "#8c8c8c", "#c8c8c8", "#1e1e1e", "#858585", "#505050"]},
                 "legend": {"orient": "none", "legendX": 234.7, "legendY": -87, "title": null, "symbolSize": 1681, "symbolStrokeWidth": 2.6, "clipHeight": 19.2, "rowPadding": 0, "padding": 4, "symbolOffset": 13, "labelOffset": 4, "labelFontSize": 16.5,
                            "labelExpr": "datum.value == 'spc' ? 'Simple patch, co-pol' : datum.value == 'spx' ? 'Simple patch, x-pol' : datum.value == 'ebc' ? 'With E-plane EBG, co-pol' : datum.value == 'ebx' ? 'With E-plane EBG, x-pol' : datum.value == 'sfc' ? 'With E-plane soft-EBG, co-pol' : 'With E-plane soft-EBG, x-pol'"}},
       "strokeDash": {"field": "s", "type": "nominal", "scale": {"domain": ["spc", "spx", "ebc", "ebx", "sfc", "sfx"], "range": [[1, 0], [1, 0], [7, 2], [1, 0], [1, 0], [1, 0]]}, "legend": null}
      }},
     {"data": {"name": "pb"},
      "transform": [{"filter": "datum.a == 0"}],
      "mark": {"type": "point", "filled": false, "opacity": 0},
      "encoding": {
       "x": {"field": "g", "type": "quantitative", "axis": null},
       "y": {"field": "g", "type": "quantitative"},
       "color": {"field": "s", "type": "nominal", "legend": null},
       "shape": {"field": "s", "type": "nominal", "scale": {"domain": ["spc", "spx", "ebc", "ebx", "sfc", "sfx"], "range": ["M-1,0H-0.17M0.17,0H1M-0.17,-0.17H0.17V0.17H-0.17Z", "M-1,0H-0.2M-0.2,0A0.2,0.2,0,1,1,0.2,0A0.2,0.2,0,1,1,-0.2,0Z", "M-1,0H-0.8M0.24,0H0.45M0,-0.22L0.2,0.14L-0.2,0.14Z", "M-1,0H-0.28M-0.28,0L0,-0.24L0.28,0L0,0.24ZM0.5,0H0.62", "M-1,0H-0.26M0.26,0H0.48M0,-0.24L0.057,-0.077L0.228,-0.074L0.092,0.03L0.141,0.194L0,0.096L-0.141,0.194L-0.092,0.03L-0.228,-0.074L-0.057,-0.077Z", "M-1,0H-0.62M-0.36,0H0.1M-0.24,-0.2L0.02,0.2M-0.24,0.2L0.02,-0.2M0.45,0H0.58"]}, "legend": null}
      }},
     {"data": {"name": "pb"},
      "transform": [{"filter": "datum.s == 'spc' && datum.a % 60 == 0 && datum.a < 360"}, {"calculate": "max(0, datum.g + 30)", "as": "r"}, {"calculate": "datum.r*cos(datum.a*PI/180)", "as": "px"}, {"calculate": "datum.r*sin(datum.a*PI/180)", "as": "py"}],
      "mark": {"type": "point", "shape": "square", "filled": false, "fill": "white", "strokeWidth": 1.3, "opacity": 1, "size": 45},
      "encoding": {"x": {"field": "px", "type": "quantitative", "axis": null}, "y": {"field": "py", "type": "quantitative"}, "color": {"field": "s", "type": "nominal", "legend": null}}},
     {"data": {"name": "pb"},
      "transform": [{"filter": "datum.s == 'ebc' && datum.a % 60 == 0 && datum.a < 360"}, {"calculate": "max(0, datum.g + 30)", "as": "r"}, {"calculate": "datum.r*cos(datum.a*PI/180)", "as": "px"}, {"calculate": "datum.r*sin(datum.a*PI/180)", "as": "py"}],
      "mark": {"type": "point", "shape": "triangle-up", "filled": false, "fill": "white", "strokeWidth": 1.3, "opacity": 1, "size": 50},
      "encoding": {"x": {"field": "px", "type": "quantitative", "axis": null}, "y": {"field": "py", "type": "quantitative"}, "color": {"field": "s", "type": "nominal", "legend": null}}},
     {"data": {"name": "pb"},
      "transform": [{"filter": "datum.s == 'sfc' && datum.a % 60 == 0 && datum.a < 360"}, {"calculate": "max(0, datum.g + 30)", "as": "r"}, {"calculate": "datum.r*cos(datum.a*PI/180)", "as": "px"}, {"calculate": "datum.r*sin(datum.a*PI/180)", "as": "py"}],
      "mark": {"type": "point", "shape": "M0,-1.4L0.33,-0.45L1.33,-0.43L0.53,0.17L0.82,1.13L0,0.56L-0.82,1.13L-0.53,0.17L-1.33,-0.43L-0.33,-0.45Z", "filled": false, "fill": "white", "strokeWidth": 1.1, "opacity": 1, "size": 40},
      "encoding": {"x": {"field": "px", "type": "quantitative", "axis": null}, "y": {"field": "py", "type": "quantitative"}, "color": {"field": "s", "type": "nominal", "legend": null}}},
     {"data": {"values": [{"x1": -47.05, "x2": -35.03, "y1": -35.7, "y2": -40}]}, "mark": {"type": "rect", "fill": "white", "stroke": "#555", "strokeWidth": 1},
      "encoding": {"x": {"field": "x1", "type": "quantitative", "axis": null}, "x2": {"field": "x2"}, "y": {"field": "y1", "type": "quantitative"}, "y2": {"field": "y2"}}},
     {"data": {"values": [{"t": "E-plane", "x": -41.04, "y": -37.85}]}, "mark": {"type": "text", "font": "Liberation Serif", "fontSize": 15, "align": "center", "baseline": "middle", "color": "#222"},
      "encoding": {"x": {"field": "x", "type": "quantitative", "axis": null}, "y": {"field": "y", "type": "quantitative"}, "text": {"field": "t", "type": "nominal"}}}
    ]
   },
   {
    "width": 452, "height": 452,
    "title": {"text": "c", "orient": "bottom", "frame": "group", "anchor": "middle", "offset": 8, "font": "Liberation Sans", "fontSize": 17, "fontStyle": "italic", "fontWeight": "normal", "color": "#222"},
    "layer": [
     {"data": {"values": [{"lev": -20}, {"lev": -10}, {"lev": 0}]},
      "transform": [{"calculate": "datum.lev + 30", "as": "r"}, {"calculate": "0", "as": "cx"}],
      "mark": {"type": "point", "shape": "circle", "filled": false, "color": "#333", "stroke": "#333", "strokeWidth": 1.6, "strokeDash": [1.6, 7.5], "opacity": 1},
      "encoding": {"x": {"field": "cx", "type": "quantitative", "scale": {"domain": [-40, 40], "nice": false, "zero": false}, "axis": null}, "y": {"field": "cx", "type": "quantitative", "scale": {"domain": [-40, 40], "nice": false, "zero": false}},
                   "size": {"field": "r", "type": "quantitative", "scale": {"type": "pow", "exponent": 2, "domain": [0, 40], "range": [0, 204304]}, "legend": null}}},
     {"data": {"values": [{"lev": 10}]},
      "transform": [{"calculate": "datum.lev + 30", "as": "r"}, {"calculate": "0", "as": "cx"}],
      "mark": {"type": "point", "shape": "circle", "filled": false, "color": "#222", "stroke": "#222", "strokeWidth": 1.1, "opacity": 1},
      "encoding": {"x": {"field": "cx", "type": "quantitative", "axis": null}, "y": {"field": "cx", "type": "quantitative"},
                   "size": {"field": "r", "type": "quantitative", "scale": {"type": "pow", "exponent": 2, "domain": [0, 40], "range": [0, 204304]}, "legend": null}}},
     {"data": {"name": "angs"},
      "transform": [{"calculate": "0", "as": "ox"}, {"calculate": "40*cos(datum.ang*PI/180)", "as": "ex"}, {"calculate": "40*sin(datum.ang*PI/180)", "as": "ey"}],
      "mark": {"type": "rule", "stroke": "#333", "strokeWidth": 1.6, "strokeDash": [1.6, 7.5]},
      "encoding": {"x": {"field": "ox", "type": "quantitative", "axis": null}, "y": {"field": "ox", "type": "quantitative"}, "x2": {"field": "ex"}, "y2": {"field": "ey"}}},
     {"data": {"name": "angs"},
      "transform": [{"calculate": "38.5*cos(datum.ang*PI/180)", "as": "sx"}, {"calculate": "38.5*sin(datum.ang*PI/180)", "as": "sy"}, {"calculate": "40*cos(datum.ang*PI/180)", "as": "ex"}, {"calculate": "40*sin(datum.ang*PI/180)", "as": "ey"}],
      "mark": {"type": "rule", "stroke": "#222", "strokeWidth": 1.1},
      "encoding": {"x": {"field": "sx", "type": "quantitative", "axis": null}, "y": {"field": "sy", "type": "quantitative"}, "x2": {"field": "ex"}, "y2": {"field": "ey"}}},
     {"data": {"name": "angs"},
      "transform": [{"filter": "datum.ang != 0 && datum.ang != 180"}, {"calculate": "44*cos(datum.ang*PI/180)", "as": "lx"}, {"calculate": "44*sin(datum.ang*PI/180)", "as": "ly"}],
      "mark": {"type": "text", "font": "Liberation Sans", "fontSize": 17, "align": "center", "baseline": "middle", "color": "#222"},
      "encoding": {"x": {"field": "lx", "type": "quantitative", "axis": null}, "y": {"field": "ly", "type": "quantitative"}, "text": {"field": "ang", "type": "nominal"}}},
     {"data": {"name": "angs"},
      "transform": [{"filter": "datum.ang == 0"}, {"calculate": "41.2", "as": "lx"}, {"calculate": "0", "as": "ly"}],
      "mark": {"type": "text", "font": "Liberation Sans", "fontSize": 17, "align": "left", "baseline": "middle", "color": "#222"},
      "encoding": {"x": {"field": "lx", "type": "quantitative", "axis": null}, "y": {"field": "ly", "type": "quantitative"}, "text": {"field": "ang", "type": "nominal"}}},
     {"data": {"name": "angs"},
      "transform": [{"filter": "datum.ang == 180"}, {"calculate": "-41.5", "as": "lx"}, {"calculate": "0", "as": "ly"}],
      "mark": {"type": "text", "font": "Liberation Sans", "fontSize": 17, "align": "right", "baseline": "middle", "color": "#222"},
      "encoding": {"x": {"field": "lx", "type": "quantitative", "axis": null}, "y": {"field": "ly", "type": "quantitative"}, "text": {"field": "ang", "type": "nominal"}}},
     {"data": {"name": "pc"},
      "transform": [{"calculate": "max(0, datum.g + 30)", "as": "r"}, {"calculate": "datum.r*cos(datum.a*PI/180)", "as": "px"}, {"calculate": "datum.r*sin(datum.a*PI/180)", "as": "py"}],
      "mark": {"type": "line", "interpolate": "catmull-rom", "strokeWidth": 3.2},
      "encoding": {
       "x": {"field": "px", "type": "quantitative", "axis": null},
       "y": {"field": "py", "type": "quantitative",
             "axis": {"orient": "left", "offset": 42.3, "values": [-40, -35, -30, -25, -20, -15, -10, -5, 0, 5, 10, 15, 20, 25, 30, 35, 40], "labelExpr": "datum.value % 10 === 0 ? '' + (abs(datum.value) - 30) : ''", "tickSize": {"condition": {"test": "datum.value % 10 === 0", "value": 7}, "value": 4}, "labelPadding": 3, "domainColor": "#555", "tickColor": "#555", "title": "Realised gain, dB", "titleFontSize": 23, "titlePadding": 20, "titleY": 203}},
       "order": {"field": "a", "type": "quantitative"},
       "color": {"field": "s", "type": "nominal", "scale": {"domain": ["spc", "spx", "ebc", "ebx", "sfc", "sfx"], "range": ["#000000", "#7c7c7c", "#c8c8c8", "#2a2a2a", "#858585", "#5a5a5a"]},
                 "legend": {"orient": "none", "legendX": 241, "legendY": -87, "title": null, "symbolSize": 1681, "symbolStrokeWidth": 2.6, "clipHeight": 19.4, "rowPadding": 0, "padding": 4, "symbolOffset": 13, "labelOffset": 4, "labelFontSize": 16.5,
                            "labelExpr": "datum.value == 'spc' ? 'Simple patch, co-pol' : datum.value == 'spx' ? 'Simple patch, x-pol' : datum.value == 'ebc' ? 'With E-plane EBG, co-pol' : datum.value == 'ebx' ? 'With E-plane EBG, x-pol' : datum.value == 'sfc' ? 'With E-plane soft-EBG, co-pol' : 'With E-plane soft-EBG, x-pol'"}},
       "strokeDash": {"field": "s", "type": "nominal", "scale": {"domain": ["spc", "spx", "ebc", "ebx", "sfc", "sfx"], "range": [[1, 0], [1, 0], [7, 2], [1, 0], [1, 0], [1, 0]]}, "legend": null}
      }},
     {"data": {"name": "pc"},
      "transform": [{"filter": "datum.a == 0"}],
      "mark": {"type": "point", "filled": false, "opacity": 0},
      "encoding": {
       "x": {"field": "g", "type": "quantitative", "axis": null},
       "y": {"field": "g", "type": "quantitative"},
       "color": {"field": "s", "type": "nominal", "legend": null},
       "shape": {"field": "s", "type": "nominal", "scale": {"domain": ["spc", "spx", "ebc", "ebx", "sfc", "sfx"], "range": ["M-1,0H-0.17M0.17,0H1M-0.17,-0.17H0.17V0.17H-0.17Z", "M-1,0H-0.2M-0.2,0A0.2,0.2,0,1,1,0.2,0A0.2,0.2,0,1,1,-0.2,0Z", "M-1,0H-0.8M0.24,0H0.45M0,-0.22L0.2,0.14L-0.2,0.14Z", "M-1,0H-0.28M-0.28,0L0,-0.24L0.28,0L0,0.24ZM0.5,0H0.62", "M-1,0H-0.26M0.26,0H0.48M0,-0.24L0.057,-0.077L0.228,-0.074L0.092,0.03L0.141,0.194L0,0.096L-0.141,0.194L-0.092,0.03L-0.228,-0.074L-0.057,-0.077Z", "M-1,0H-0.62M-0.36,0H0.1M-0.24,-0.2L0.02,0.2M-0.24,0.2L0.02,-0.2M0.45,0H0.58"]}, "legend": null}
      }},
     {"data": {"name": "pc"},
      "transform": [{"filter": "datum.s == 'spc' && datum.a % 60 == 0 && datum.a < 360"}, {"calculate": "max(0, datum.g + 30)", "as": "r"}, {"calculate": "datum.r*cos(datum.a*PI/180)", "as": "px"}, {"calculate": "datum.r*sin(datum.a*PI/180)", "as": "py"}],
      "mark": {"type": "point", "shape": "square", "filled": false, "fill": "white", "strokeWidth": 1.3, "opacity": 1, "size": 45},
      "encoding": {"x": {"field": "px", "type": "quantitative", "axis": null}, "y": {"field": "py", "type": "quantitative"}, "color": {"field": "s", "type": "nominal", "legend": null}}},
     {"data": {"name": "pc"},
      "transform": [{"filter": "datum.s == 'ebc' && datum.a % 60 == 0 && datum.a < 360"}, {"calculate": "max(0, datum.g + 30)", "as": "r"}, {"calculate": "datum.r*cos(datum.a*PI/180)", "as": "px"}, {"calculate": "datum.r*sin(datum.a*PI/180)", "as": "py"}],
      "mark": {"type": "point", "shape": "triangle-up", "filled": false, "fill": "white", "strokeWidth": 1.3, "opacity": 1, "size": 50},
      "encoding": {"x": {"field": "px", "type": "quantitative", "axis": null}, "y": {"field": "py", "type": "quantitative"}, "color": {"field": "s", "type": "nominal", "legend": null}}},
     {"data": {"name": "pc"},
      "transform": [{"filter": "datum.s == 'sfc' && datum.a % 60 == 0 && datum.a < 360"}, {"calculate": "max(0, datum.g + 30)", "as": "r"}, {"calculate": "datum.r*cos(datum.a*PI/180)", "as": "px"}, {"calculate": "datum.r*sin(datum.a*PI/180)", "as": "py"}],
      "mark": {"type": "point", "shape": "M0,-1.4L0.33,-0.45L1.33,-0.43L0.53,0.17L0.82,1.13L0,0.56L-0.82,1.13L-0.53,0.17L-1.33,-0.43L-0.33,-0.45Z", "filled": false, "fill": "white", "strokeWidth": 1.1, "opacity": 1, "size": 40},
      "encoding": {"x": {"field": "px", "type": "quantitative", "axis": null}, "y": {"field": "py", "type": "quantitative"}, "color": {"field": "s", "type": "nominal", "legend": null}}},
     {"data": {"name": "pc"},
      "transform": [{"filter": "datum.s == 'spx' && indexof([0, 64, 125, 235, 296], datum.a) >= 0"}, {"calculate": "max(0, datum.g + 30)", "as": "r"}, {"calculate": "datum.r*cos(datum.a*PI/180)", "as": "px"}, {"calculate": "datum.r*sin(datum.a*PI/180)", "as": "py"}],
      "mark": {"type": "point", "shape": "circle", "filled": false, "fill": "white", "strokeWidth": 1.3, "opacity": 1, "size": 45},
      "encoding": {"x": {"field": "px", "type": "quantitative", "axis": null}, "y": {"field": "py", "type": "quantitative"}, "color": {"field": "s", "type": "nominal", "legend": null}}},
     {"data": {"name": "pc"},
      "transform": [{"filter": "datum.s == 'ebx' && indexof([0, 64, 125, 235, 296], datum.a) >= 0"}, {"calculate": "max(0, datum.g + 30)", "as": "r"}, {"calculate": "datum.r*cos(datum.a*PI/180)", "as": "px"}, {"calculate": "datum.r*sin(datum.a*PI/180)", "as": "py"}],
      "mark": {"type": "point", "shape": "diamond", "filled": false, "fill": "white", "strokeWidth": 1.3, "opacity": 1, "size": 50},
      "encoding": {"x": {"field": "px", "type": "quantitative", "axis": null}, "y": {"field": "py", "type": "quantitative"}, "color": {"field": "s", "type": "nominal", "legend": null}}},
     {"data": {"name": "pc"},
      "transform": [{"filter": "datum.s == 'sfx' && indexof([0, 64, 125, 235, 296], datum.a) >= 0"}, {"calculate": "max(0, datum.g + 30)", "as": "r"}, {"calculate": "datum.r*cos(datum.a*PI/180)", "as": "px"}, {"calculate": "datum.r*sin(datum.a*PI/180)", "as": "py"}],
      "mark": {"type": "point", "shape": "M-1.3,0H1.3M-0.65,-1.1L0.65,1.1M-0.65,1.1L0.65,-1.1", "filled": false, "strokeWidth": 1.3, "opacity": 1, "size": 40},
      "encoding": {"x": {"field": "px", "type": "quantitative", "axis": null}, "y": {"field": "py", "type": "quantitative"}, "color": {"field": "s", "type": "nominal", "legend": null}}},
     {"data": {"values": [{"x1": -46.9, "x2": -35.04, "y1": -37.0, "y2": -40.5}]}, "mark": {"type": "rect", "fill": "white", "stroke": "#555", "strokeWidth": 1},
      "encoding": {"x": {"field": "x1", "type": "quantitative", "axis": null}, "x2": {"field": "x2"}, "y": {"field": "y1", "type": "quantitative"}, "y2": {"field": "y2"}}},
     {"data": {"values": [{"t": "H-plane", "x": -40.97, "y": -38.75}]}, "mark": {"type": "text", "font": "Liberation Serif", "fontSize": 15, "align": "center", "baseline": "middle", "color": "#222"},
      "encoding": {"x": {"field": "x", "type": "quantitative", "axis": null}, "y": {"field": "y", "type": "quantitative"}, "text": {"field": "t", "type": "nominal"}}}
    ]
   }
  ]
 }
]
}
